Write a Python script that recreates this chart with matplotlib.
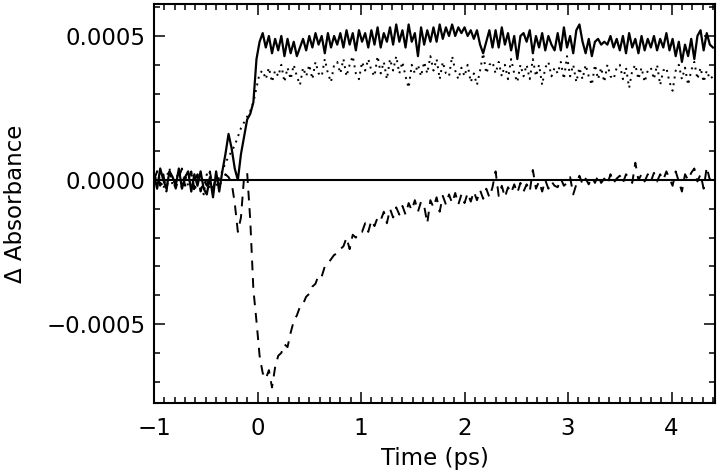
import numpy as np
import matplotlib
matplotlib.use('Agg')
import matplotlib.pyplot as plt
from matplotlib.ticker import MultipleLocator, FuncFormatter

# time grid (ps), one sample every 0.03 ps
t_start = -1.0
t_step = 0.03
n_pts = 181

# absorbance change, in units of 1e-4, rows of 10 samples (0.3 ps each)
solid = [
    0.2, -0.3, 0.4, 0.0, -0.3, 0.3, 0.1, -0.2, 0.4, -0.3,
    0.1, 0.3, -0.4, 0.2, -0.2, 0.3, -0.3, -0.5, 0.1, -0.6,
    0.3, -0.4, 0.3, 0.9, 1.6, 1.1, 0.4, 0.0, 0.9, 1.5,
    2.1, 2.3, 2.7, 4.2, 4.8, 5.1, 4.6, 5.0, 4.4, 4.9,
    4.5, 5.0, 4.3, 4.9, 4.4, 4.8, 4.3, 4.6, 4.9, 4.5,
    5.0, 4.6, 5.1, 4.7, 5.0, 4.4, 5.1, 4.6, 5.0, 4.7,
    5.1, 4.6, 5.2, 4.7, 5.1, 4.5, 5.2, 4.8, 5.1, 4.6,
    5.2, 4.7, 5.3, 4.6, 5.1, 4.8, 5.3, 4.7, 5.4, 4.8,
    5.2, 4.6, 5.4, 4.8, 5.1, 4.3, 5.3, 4.7, 5.2, 4.8,
    5.3, 4.8, 5.4, 4.9, 5.3, 5.0, 5.4, 5.0, 5.3, 5.1,
    5.3, 5.0, 5.2, 4.9, 5.2, 4.7, 4.4, 4.8, 5.2, 4.6,
    5.2, 4.6, 5.3, 4.7, 5.1, 4.5, 5.0, 4.2, 5.0, 5.1,
    4.8, 5.2, 4.4, 5.0, 4.6, 5.1, 4.5, 5.0, 4.7, 4.5,
    5.1, 4.5, 5.3, 4.6, 5.0, 4.4, 5.2, 5.4, 4.8, 4.4,
    4.9, 4.3, 4.8, 4.9, 4.7, 4.8, 4.7, 5.0, 4.6, 4.9,
    4.5, 5.0, 4.4, 5.1, 4.6, 4.9, 4.4, 5.0, 4.5, 4.9,
    4.6, 5.0, 4.5, 4.9, 4.6, 5.1, 4.5, 4.9, 4.3, 4.8,
    4.1, 4.7, 4.3, 4.9, 4.2, 5.0, 5.2, 4.5, 5.1, 4.7,
    4.6,
]

dotted = [
    -0.2, 0.3, 0.0, -0.3, 0.1, 0.4, -0.2, 0.0, 0.3, -0.3,
    0.2, -0.2, 0.3, -0.4, 0.0, 0.2, -0.5, 0.2, -0.3, -0.4,
    -0.2, 0.1, 0.3, 0.6, 0.8, 1.0, 1.2, 1.5, 1.8, 2.0,
    2.2, 2.4, 2.7, 3.2, 3.7, 3.8, 3.5, 3.9, 3.4, 3.8,
    3.6, 4.0, 3.4, 3.9, 3.5, 4.0, 3.6, 3.3, 3.9, 3.6,
    4.0, 3.5, 4.1, 3.7, 3.6, 4.2, 3.7, 3.4, 4.0, 4.1,
    3.7, 4.2, 3.6, 4.0, 4.3, 3.7, 3.5, 4.1, 3.8, 4.2,
    3.8, 3.6, 4.3, 3.7, 4.1, 3.5, 4.2, 3.8, 4.3, 3.7,
    4.1, 3.6, 3.2, 4.0, 3.7, 4.0, 3.6, 4.1, 3.7, 4.3,
    3.8, 4.2, 3.5, 4.1, 3.7, 3.6, 4.3, 3.8, 3.5, 3.9,
    3.6, 4.0, 3.4, 3.7, 3.3, 3.8, 4.4, 3.7, 4.0, 4.1,
    3.7, 4.1, 3.6, 4.0, 3.5, 4.2, 3.7, 3.4, 4.0, 3.6,
    4.0, 3.5, 4.2, 3.6, 4.0, 3.3, 3.9, 4.1, 3.6, 3.9,
    3.7, 4.1, 3.5, 4.3, 3.6, 4.0, 3.4, 3.9, 3.5, 4.0,
    3.6, 3.3, 4.0, 3.5, 3.9, 3.4, 4.0, 3.6, 3.5, 3.9,
    4.0, 3.5, 3.9, 3.2, 3.8, 4.0, 3.5, 3.9, 3.4, 3.8,
    3.9, 3.5, 4.0, 3.3, 3.8, 3.9, 3.4, 3.1, 3.8, 4.0,
    3.5, 3.9, 3.3, 3.8, 4.1, 3.5, 3.9, 3.4, 3.8, 3.5,
    3.6,
]

dashed = [
    0.0, 0.3, -0.2, 0.2, -0.4, 0.3, 0.0, -0.3, 0.1, 0.4,
    -0.2, 0.0, 0.3, -0.3, 0.2, -0.4, 0.0, -0.2, 0.3, -0.3,
    0.1, -0.2, 0.0, 0.2, 0.1, -0.1, -0.8, -1.8, -1.3, 0.1,
    0.25, -1.4, -3.8, -4.9, -6.1, -6.7, -6.9, -6.6, -7.2, -6.5,
    -6.1, -6.0, -5.7, -5.8, -5.3, -4.9, -4.7, -4.4, -4.3, -4.05,
    -3.95, -3.7, -3.6, -3.3, -3.35, -3.0, -2.9, -2.75, -2.6, -2.55,
    -2.4, -2.3, -2.0, -2.4, -1.9, -2.0, -1.8, -1.8, -1.5, -1.8,
    -1.4, -1.6, -1.3, -1.4, -1.1, -1.5, -1.0, -1.3, -0.95, -1.2,
    -0.9, -1.2, -0.8, -1.05, -0.7, -1.1, -0.75, -0.9, -1.5, -0.7,
    -0.95, -0.6, -1.1, -0.55, -0.85, -0.5, -0.8, -0.45, -0.85, -0.5,
    -0.8, -0.45, -0.75, -0.4, -0.7, -0.35, -0.65, -0.3, -0.6, -0.25,
    0.3, -0.55, -0.2, -0.6, -0.25, -0.45, -0.15, -0.45, -0.1, -0.4,
    -0.15, -0.4, 0.35, -0.3, -0.05, -0.4, 0.0, -0.3, -0.05, -0.2,
    -0.25, 0.05, -0.2, -0.1, 0.1, -0.5, -0.15, 0.15, -0.15, 0.05,
    -0.15, 0.1, -0.1, 0.15, -0.1, 0.05, -0.15, 0.2, -0.1, 0.05,
    0.15, -0.1, 0.2, 0.05, -0.1, 0.6, 0.0, 0.2, -0.05, 0.2,
    -0.05, 0.25, -0.05, 0.2, 0.0, 0.3, 0.05, -0.2, 0.3, -0.05,
    -0.4, 0.2, 0.0, 0.25, 0.4, -0.05, 0.2, -0.3, 0.45, 0.0,
    0.1,
]

time = t_start + t_step * np.arange(n_pts)
scale = 1e-4

fig = plt.figure(figsize=(7.2, 4.72), dpi=100)
ax = fig.add_axes([0.2139, 0.1462, 0.7792, 0.8453])

ax.axhline(0, color='black', lw=1.5)
ax.plot(time, np.array(solid) * scale, color='black', lw=1.6, ls='-')
ax.plot(time, np.array(dotted) * scale, color='black', lw=1.4, ls=(0, (1, 2.5)))
ax.plot(time, np.array(dashed) * scale, color='black', lw=1.4, ls=(0, (5, 4)))

ax.set_xlim(-1, 4.42)
ax.set_ylim(-0.000774, 0.000611)

ax.xaxis.set_major_locator(MultipleLocator(1))
ax.xaxis.set_minor_locator(MultipleLocator(0.1))
ax.yaxis.set_major_locator(MultipleLocator(0.0005))
ax.yaxis.set_minor_locator(MultipleLocator(0.0001))
ax.yaxis.set_major_formatter(FuncFormatter(lambda v, p: ('%.4f' % v).replace('-', '\u2212')))
ax.xaxis.set_major_formatter(FuncFormatter(lambda v, p: ('%d' % round(v)).replace('-', '\u2212')))

ax.tick_params(which='both', direction='in', top=True, right=True, width=1.1, labelsize=16.5)
ax.tick_params(which='major', length=8)
ax.tick_params(which='minor', length=4.3)
ax.tick_params(axis='x', pad=10)
ax.tick_params(axis='y', pad=6)
for s in ax.spines.values():
    s.set_linewidth(1.5)

ax.set_xlabel('Time (ps)', fontsize=16.5, labelpad=5)
ax.set_ylabel('\u0394 Absorbance', fontsize=16.5, labelpad=14)

fig.savefig('out.png', dpi=100)
